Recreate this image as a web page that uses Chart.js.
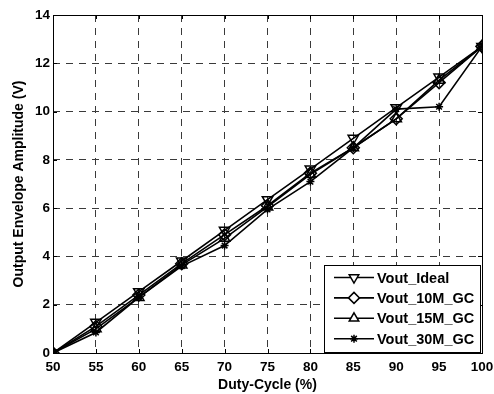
<!DOCTYPE html>
<html>
<head>
<meta charset="utf-8">
<script src="https://cdn.jsdelivr.net/npm/chart.js@4/dist/chart.umd.min.js"></script>
<style>
  html, body { margin: 0; padding: 0; background: #fff; }
  #wrap { width: 494px; height: 394px; }
</style>
</head>
<body>
<div id="wrap"><canvas id="myChart" width="494" height="394"></canvas></div>
<script>
// duty cycle (%) and measured envelope amplitudes (V)
const duty = [50, 55, 60, 65, 70, 75, 80, 85, 90, 95, 100];
const voutIdeal = [0, 1.27, 2.54, 3.81, 5.08, 6.35, 7.62, 8.89, 10.16, 11.43, 12.7];
const vout10M = [0, 1.1, 2.4, 3.7, 4.9, 6.1, 7.45, 8.5, 9.7, 11.2, 12.7];
const vout15M = [0, 1.0, 2.3, 3.65, 4.75, 6.05, 7.4, 8.5, 9.7, 11.3, 12.7];
const vout30M = [0, 0.85, 2.3, 3.6, 4.45, 5.95, 7.1, 8.5, 10.1, 10.2, 12.7];
const xTicks = [50, 55, 60, 65, 70, 75, 80, 85, 90, 95, 100];
const yTicks = [0, 2, 4, 6, 8, 10, 12, 14];

const FONT = 'Liberation Sans, Arial, sans-serif';

const toPoints = (values) => duty.map((d, i) => ({ x: d, y: values[i] }));

const series = [
    { label: 'Vout_Ideal', values: voutIdeal, style: 'triangle', rotation: 180 },
    { label: 'Vout_10M_GC', values: vout10M, style: 'rectRot', rotation: 0 },
    { label: 'Vout_15M_GC', values: vout15M, style: 'triangle', rotation: 0 },
    { label: 'Vout_30M_GC', values: vout30M, style: 'star', rotation: 0 }
];

const datasets = series.map((s) => {
    return {
        label: s.label,
        data: toPoints(s.values),
        borderColor: '#000',
        borderWidth: 1.6,
        backgroundColor: 'rgba(255,255,255,0)',
        pointStyle: s.style,
        pointRotation: s.rotation,
        pointRadius: s.style === 'star' ? 4 : 6,
        pointBorderWidth: 1.5,
        pointBorderColor: '#000',
        pointBackgroundColor: 'rgba(255,255,255,0)',
        tension: 0
    };
});

// box around the axes plus inward tick marks
const frame = {
    id: 'frame',
    afterDatasetsDraw(chart) {
        const { ctx, chartArea: a, scales } = chart;
        ctx.save();
        ctx.strokeStyle = '#000';
        ctx.lineWidth = 1;
        ctx.strokeRect(a.left + 0.5, a.top + 0.5, a.right - a.left, a.bottom - a.top);
        ctx.beginPath();
        xTicks.forEach((t) => {
            const px = Math.round(scales.x.getPixelForValue(t)) + 0.5;
            ctx.moveTo(px, a.bottom); ctx.lineTo(px, a.bottom - 4);
            ctx.moveTo(px, a.top); ctx.lineTo(px, a.top + 4);
        });
        yTicks.forEach((t) => {
            const py = Math.round(scales.y.getPixelForValue(t)) + 0.5;
            ctx.moveTo(a.left, py); ctx.lineTo(a.left + 4, py);
            ctx.moveTo(a.right, py); ctx.lineTo(a.right - 4, py);
        });
        ctx.stroke();
        ctx.restore();
    }
};

// legend boxed in the lower right corner of the plot
const insideLegend = {
    id: 'insideLegend',
    afterDraw(chart) {
        const { ctx, chartArea: a } = chart;
        const w = 156, rowH = 20.4, h = 87;
        const x0 = a.right - w - 2, y0 = a.bottom - h - 1;
        ctx.save();
        ctx.fillStyle = '#fff';
        ctx.fillRect(x0, y0, w, h);
        ctx.strokeStyle = '#000';
        ctx.lineWidth = 1;
        ctx.strokeRect(x0 + 0.5, y0 + 0.5, w, h);
        chart.data.datasets.forEach((ds, i) => {
            const cy = y0 + 12.5 + i * rowH;
            ctx.strokeStyle = '#000';
            ctx.lineWidth = 1.6;
            ctx.beginPath();
            ctx.moveTo(x0 + 10, cy);
            ctx.lineTo(x0 + 50, cy);
            ctx.stroke();
            ctx.lineWidth = 1.5;
            ctx.fillStyle = '#fff';
            Chart.helpers.drawPoint(ctx, {
                pointStyle: ds.pointStyle,
                rotation: ds.pointRotation,
                radius: ds.pointStyle === 'star' ? 4 : 5.5,
                borderWidth: 1.5
            }, x0 + 30, cy);
            ctx.fillStyle = '#000';
            ctx.font = 'bold 14.5px ' + FONT;
            ctx.textBaseline = 'middle';
            ctx.textAlign = 'left';
            ctx.fillText(ds.label, x0 + 53, cy + 1);
        });
        ctx.restore();
    }
};

const config = {
    type: 'line',
    data: { datasets: datasets },
    options: {
        responsive: false,
        animation: false,
        layout: { padding: { top: 15, right: 12, left: 0, bottom: 0 } },
        plugins: {
            legend: { display: false },
            tooltip: { enabled: false }
        },
        scales: {
            x: {
                type: 'linear',
                min: 50,
                max: 100,
                afterBuildTicks: (axis) => { axis.ticks = xTicks.map((v) => ({ value: v })); },
                afterFit: (axis) => {
                    axis.height = 41;
                    // let the "100" label hang past the plot edge
                    axis.paddingLeft = 0;
                    axis.paddingRight = 0;
                },
                grid: {
                    color: (c) => (c.tick.value === 50 || c.tick.value === 100) ? 'rgba(0,0,0,0)' : '#3a3a3a',
                    lineWidth: 1,
                    drawTicks: false,
                    tickLength: 0
                },
                border: { display: false, dash: [7, 6] },
                ticks: {
                    color: '#000',
                    padding: 6,
                    maxRotation: 0,
                    font: { family: FONT, size: 13.5, weight: 'bold' }
                },
                title: {
                    display: true,
                    text: 'Duty-Cycle (%)',
                    color: '#000',
                    padding: { top: 0, bottom: 0 },
                    font: { family: FONT, size: 14, weight: 'bold' }
                }
            },
            y: {
                min: 0,
                max: 14,
                afterBuildTicks: (axis) => { axis.ticks = yTicks.map((v) => ({ value: v })); },
                afterFit: (axis) => {
                    axis.width = 53;
                    axis.paddingTop = 0;
                    axis.paddingBottom = 0;
                },
                grid: {
                    color: (c) => (c.tick.value === 0 || c.tick.value === 14) ? 'rgba(0,0,0,0)' : '#3a3a3a',
                    lineWidth: 1,
                    drawTicks: false,
                    tickLength: 0
                },
                border: { display: false, dash: [7, 6] },
                ticks: {
                    color: '#000',
                    padding: 3,
                    font: { family: FONT, size: 13.5, weight: 'bold' }
                },
                title: {
                    display: true,
                    text: 'Output Envelope Amplitude (V)',
                    color: '#000',
                    padding: { top: 11, bottom: 0 },
                    font: { family: FONT, size: 14, weight: 'bold' }
                }
            }
        }
    },
    plugins: [frame, insideLegend]
};

const myChart = new Chart(document.getElementById('myChart'), config);
</script>
</body>
</html>
